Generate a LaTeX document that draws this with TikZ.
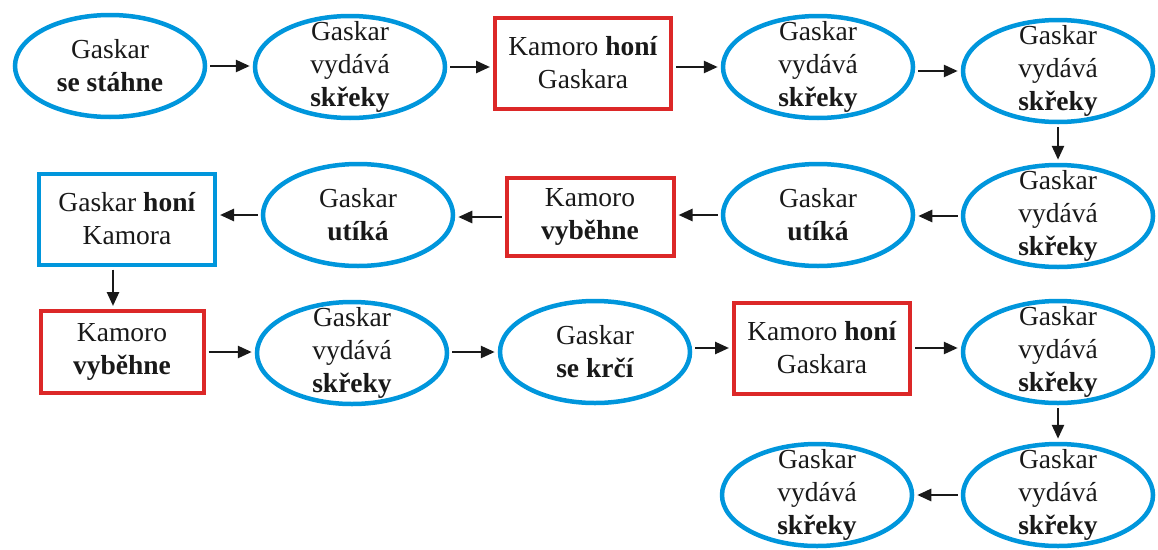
\documentclass[tikz,border=0pt]{standalone}
\usepackage{fontspec}
\setmainfont{Liberation Serif}
\usetikzlibrary{shapes.geometric,arrows.meta,calc}
\definecolor{gblue}{RGB}{0,150,220}
\definecolor{kred}{RGB}{220,40,40}
\begin{document}
\begin{tikzpicture}[x=1pt,y=-1pt,
  ell/.style={ellipse, draw=gblue, line width=4.5pt, minimum width=190pt, minimum height=102pt, inner sep=0pt},
  txt/.style={align=center, font=\fontsize{27.5}{33}\selectfont, inner sep=0pt, text=black!90},
  boxr/.style={rectangle, draw=kred, line width=4pt, inner sep=0pt, minimum width=176pt, minimum height=91pt},
  boxb/.style={boxr, draw=gblue},
  arr/.style={-{Triangle[length=14pt,width=12pt]}, line width=2.6pt, black!90, shorten <=3pt, shorten >=3pt}]
\useasboundingbox (0,0) rectangle (1158,549);
% row 1
\node[ell] (e1) at (110,66) {};
\node[txt] (e1t) at (e1) {Gaskar\\\textbf{se stáhne}};
\node[ell] (e2) at (350,67) {};
\node[txt] (e2t) at (e2) {Gaskar\\vydává\\\textbf{skřeky}};
\node[boxr] (b1) at (583,63) {};
\node[txt] (b1t) at (b1) {Kamoro \textbf{honí}\\Gaskara};
\node[ell] (e3) at (818,67) {};
\node[txt] (e3t) at (e3) {Gaskar\\vydává\\\textbf{skřeky}};
\node[ell] (e4) at (1058,71) {};
\node[txt] (e4t) at (e4) {Gaskar\\vydává\\\textbf{skřeky}};
% row 2
\node[ell] (e5) at (1058,216) {};
\node[txt] (e5t) at (e5) {Gaskar\\vydává\\\textbf{skřeky}};
\node[ell] (e6) at (818,215) {};
\node[txt] (e6t) at (e6) {Gaskar\\\textbf{utíká}};
\node[boxr, minimum width=167pt, minimum height=78pt] (b2) at (590,217) {};
\node[txt] (b2t) at (b2) {Kamoro\\\textbf{vyběhne}};
\node[ell] (e7) at (358,215) {};
\node[txt] (e7t) at (e7) {Gaskar\\\textbf{utíká}};
\node[boxb] (b3) at (127,219) {};
\node[txt] (b3t) at (b3) {Gaskar \textbf{honí}\\Kamora};
% row 3
\node[boxr, minimum width=163pt, minimum height=82pt] (b4) at (122,352) {};
\node[txt] (b4t) at (b4) {Kamoro\\\textbf{vyběhne}};
\node[ell] (e8) at (352,353) {};
\node[txt] (e8t) at (e8) {Gaskar\\vydává\\\textbf{skřeky}};
\node[ell] (e9) at (595,352) {};
\node[txt] (e9t) at (e9) {Gaskar\\\textbf{se krčí}};
\node[boxr] (b5) at (822,348) {};
\node[txt] (b5t) at (b5) {Kamoro \textbf{honí}\\Gaskara};
\node[ell] (e10) at (1058,352) {};
\node[txt] (e10t) at (e10) {Gaskar\\vydává\\\textbf{skřeky}};
% row 4
\node[ell] (e11) at (1058,495) {};
\node[txt] (e11t) at (e11) {Gaskar\\vydává\\\textbf{skřeky}};
\node[ell] (e12) at (817,495) {};
\node[txt] (e12t) at (e12) {Gaskar\\vydává\\\textbf{skřeky}};
% arrows
\draw[arr] (e1.east) -- (e1.east -| e2.west);
\draw[arr] (e2.east) -- (e2.east -| b1.west);
\draw[arr] (b1.east |- e3) -- (e3.west);
\draw[arr] (e3.east |- e4) -- (e4.west);
\draw[arr] (e4.south) -- (e5.north);
\draw[arr] (e5.west) -- (e5.west -| e6.east);
\draw[arr] (e6.west) -- (e6.west -| b2.east);
\draw[arr] (b2.west) -- (b2.west -| e7.east);
\draw[arr] (e7.west) -- (e7.west -| b3.east);
\draw[arr] ([xshift=-14pt]b3.south) -- ([xshift=-14pt]b3.south |- b4.north);
\draw[arr] (b4.east) -- (b4.east -| e8.west);
\draw[arr] (e8.east |- b4) -- (e9.west);
\draw[arr] (e9.east |- b5) -- (b5.west);
\draw[arr] (b5.east) -- (b5.east -| e10.west);
\draw[arr] (e10.south) -- (e11.north);
\draw[arr] (e11.west) -- (e12.east);
\end{tikzpicture}
\end{document}
